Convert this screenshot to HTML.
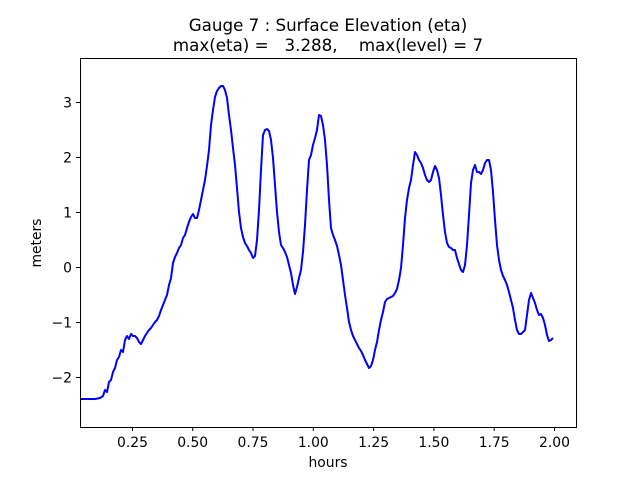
<!DOCTYPE html>
<html><head><style>
body{margin:0;background:#fff;}
svg{display:block;font-family:"DejaVu Sans","Liberation Sans",sans-serif;}
</style></head><body>
<svg width="640" height="480" viewBox="0 0 640 480">
<rect width="640" height="480" fill="#fff"/>
<polyline fill="none" stroke="#0000ff" stroke-width="2" stroke-linejoin="round" points="80,399 95,399 100,398 103,396 105,390 107,392 109,382 111,380 113,372 115,368 117,360 119,357 121,350 123,352 125,340 127,336 129,339 131,334 133,336 135,336 137,338 139,342 141,344 143,340 145,336 147,333 149,330 151,328 153,325 155,322 157,320 159,316 161,310 163,305 165,300 167,295 169,285 171,278 173,263 175,257 177,253 179,248 181,245 183,238 185,235 187,228 189,222 191,217 193,214 195,218 197,218 199,210 201,200 203,190 205,180 207,166 209,150 211,125 213,110 215,97 217,91 219,88 221,86 223,86 225,90 227,98 229,115 231,130 233,148 235,165 237,188 239,212 241,228 243,237 245,243 247,246 249,250 251,253 253,258 255,256 257,240 259,210 261,170 263,135 265,130 267,129 269,131 271,140 273,158 275,185 277,212 279,232 281,245 283,248 285,252 287,257 289,265 291,273 293,285 295,294 297,287 299,278 301,270 303,252 305,225 307,190 309,160 311,155 313,145 315,138 317,130 319,115 321,116 323,125 325,140 327,165 329,200 331,228 333,235 335,240 337,246 339,255 341,265 343,280 345,295 347,308 349,322 351,330 353,336 355,340 357,344 359,348 361,351 363,355 365,360 367,364 369,368 371,366 373,360 375,350 377,342 379,330 381,320 383,312 385,302 387,299 389,298 391,297 393,296 395,293 397,289 399,280 401,268 403,245 405,218 407,200 409,188 411,180 413,165 415,152 417,155 419,160 421,163 423,168 425,175 427,180 429,182 431,180 433,172 435,166 437,170 439,178 441,195 443,215 445,232 447,243 449,247 451,248 453,250 455,250 457,258 459,264 461,270 463,272 465,265 467,245 469,215 471,183 473,170 475,165 477,172 479,172 481,174 483,170 485,163 487,160 489,160 491,170 493,192 495,220 497,245 499,260 501,270 503,276 505,280 507,285 509,292 511,300 513,308 515,320 517,330 519,334 521,334 523,332 525,330 527,315 529,300 531,293 533,298 535,303 537,310 539,315 541,314 543,318 545,325 547,335 549,341 551,340 553,338"/>
<rect x="80.5" y="58.5" width="496" height="369" fill="none" stroke="#000" stroke-width="1"/>
<g stroke="#000" stroke-width="1">
<line x1="132.5" y1="427" x2="132.5" y2="431"/><line x1="192.7" y1="427" x2="192.7" y2="431"/><line x1="253" y1="427" x2="253" y2="431"/><line x1="313.3" y1="427" x2="313.3" y2="431"/><line x1="373.6" y1="427" x2="373.6" y2="431"/><line x1="433.9" y1="427" x2="433.9" y2="431"/><line x1="494.2" y1="427" x2="494.2" y2="431"/><line x1="554.5" y1="427" x2="554.5" y2="431"/>
<line x1="76" y1="102.5" x2="80" y2="102.5"/><line x1="76" y1="157.5" x2="80" y2="157.5"/><line x1="76" y1="212.5" x2="80" y2="212.5"/><line x1="76" y1="267.5" x2="80" y2="267.5"/><line x1="76" y1="322.5" x2="80" y2="322.5"/><line x1="76" y1="377.5" x2="80" y2="377.5"/>
</g>
<g font-size="13.9" text-anchor="middle" fill="#000">
<text x="132.5" y="447">0.25</text><text x="192.7" y="447">0.50</text><text x="253" y="447">0.75</text><text x="313.3" y="447">1.00</text><text x="373.6" y="447">1.25</text><text x="433.9" y="447">1.50</text><text x="494.2" y="447">1.75</text><text x="554.5" y="447">2.00</text>
</g>
<g font-size="13.9" text-anchor="end" fill="#000">
<text x="72" y="107.5">3</text><text x="72" y="162.5">2</text><text x="72" y="217.5">1</text><text x="72" y="272.5">0</text><text x="72" y="327.5">−1</text><text x="72" y="382.5">−2</text>
</g>
<text x="328" y="467" font-size="13.9" text-anchor="middle">hours</text>
<text transform="translate(41,243) rotate(-90)" font-size="13.9" text-anchor="middle">meters</text>
<text x="328" y="31" font-size="16.7" text-anchor="middle">Gauge 7 : Surface Elevation (eta)</text>
<text x="328" y="51" font-size="16.7" text-anchor="middle" xml:space="preserve">max(eta) =   3.288,    max(level) = 7</text>
</svg>
</body></html>
